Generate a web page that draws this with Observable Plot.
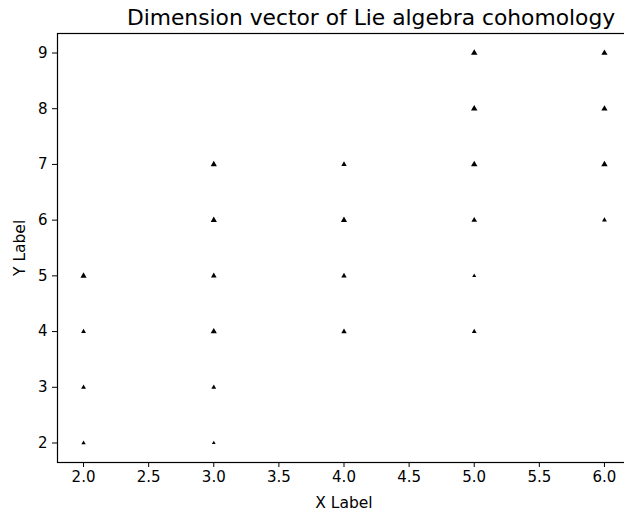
<!DOCTYPE html>
<html>
<head>
<meta charset="utf-8">
<script src="https://cdn.jsdelivr.net/npm/d3@7"></script>
<script src="https://cdn.jsdelivr.net/npm/@observablehq/plot@0.6"></script>
<style>
  html, body { margin: 0; padding: 0; background: #fff; overflow: hidden; }
  #chart { width: 624px; height: 512px; overflow: hidden; }
  #chart svg { max-width: none !important; }
</style>
</head>
<body>
<div id="chart"></div>
<script>
const xs    = [2, 2, 2, 2,   3, 3, 3, 3, 3, 3,   4, 4, 4, 4,   5, 5, 5, 5, 5, 5,   6, 6, 6, 6];
const ys    = [2, 3, 4, 5,   2, 3, 4, 5, 6, 7,   4, 5, 6, 7,   4, 5, 6, 7, 8, 9,   6, 7, 8, 9];
const sizes = [1.6, 1.8, 1.8, 2.3,   1.4, 1.8, 2.3, 2.1, 2.3, 2.3,   2.0, 2.0, 2.3, 2.0,   1.8, 1.5, 2.1, 2.4, 2.4, 2.4,   1.8, 2.4, 2.3, 2.3];
const xTicks = [2, 2.5, 3, 3.5, 4, 4.5, 5, 5.5, 6];
const yTicks = [2, 3, 4, 5, 6, 7, 8, 9];
const title = "Dimension vector of Lie algebra cohomology";
const xLabel = "X Label";
const yLabel = "Y Label";

const data = xs.map((x, i) => ({x, y: ys[i], s: sizes[i]}));

const chart = Plot.plot({
  width: 640,
  height: 512,
  marginLeft: 57,
  marginRight: 10,
  marginTop: 33,
  marginBottom: 50,
  style: {fontFamily: "DejaVu Sans", fontSize: "14px", color: "#000", background: "#fff", maxWidth: "none"},
  x: {domain: [1.8, 6.2], label: null},
  y: {domain: [1.65, 9.35], label: null},
  r: {type: "identity"},
  marks: [
    Plot.frame({stroke: "#000", strokeWidth: 1.2}),
    Plot.axisX({ticks: xTicks, tickFormat: d3.format(".1f"), tickSize: 5, tickPadding: 4, fontSize: 15, label: null}),
    Plot.axisY({ticks: yTicks, tickFormat: d3.format("d"), tickSize: 5, tickPadding: 5, fontSize: 15, label: null}),
    Plot.dot(data, {x: "x", y: "y", r: "s", symbol: "triangle", fill: "#000", stroke: "none"}),
    Plot.text([title], {frameAnchor: "top", dx: 27, dy: -15, lineAnchor: "middle", fontSize: 21.8, fill: "#000"}),
    Plot.text([xLabel], {frameAnchor: "bottom", dy: 41, lineAnchor: "middle", fontSize: 15.5, fill: "#000"}),
    Plot.text([yLabel], {frameAnchor: "left", dx: -37, dy: 28, rotate: -90, lineAnchor: "middle", fontSize: 15.5, fill: "#000"})
  ]
});
document.getElementById("chart").appendChild(chart);
</script>
</body>
</html>
